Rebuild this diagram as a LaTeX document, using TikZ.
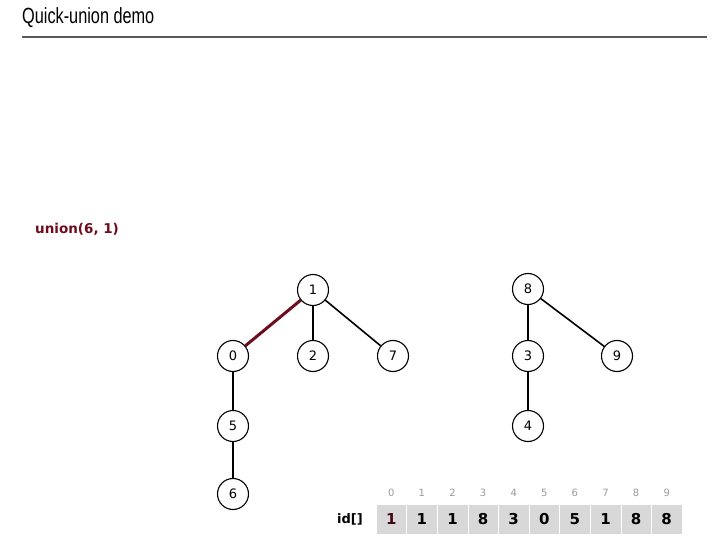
\documentclass[tikz,border=0pt]{standalone}
\usepackage{fontspec}
\setmainfont{DejaVu Sans}
\newfontfamily\titlefont[FakeStretch=0.74]{Liberation Sans}
\usetikzlibrary{positioning}
\definecolor{darkred}{HTML}{6E0B1C}
\definecolor{cellgray}{HTML}{D8D8D8}
\begin{document}
\begin{tikzpicture}[x=1pt, y=-1pt,
    vertex/.style={circle, draw, line width=1.1pt, fill=white, minimum size=31pt, inner sep=0pt, font=\fontsize{13}{15}\selectfont},
    edge/.style={line width=1.6pt},
    cell/.style={rectangle, draw=white, fill=cellgray, minimum width=30.6pt, minimum height=30pt, inner sep=0pt, font=\bfseries\fontsize{15}{18}\selectfont},
    index/.style={text=gray!80, font=\fontsize{10}{12}\selectfont}]
    \useasboundingbox (0,0) rectangle (715,548);

    % Title and rule
    \node[anchor=base west, inner sep=0pt, font=\titlefont\fontsize{22}{26}\selectfont] (title) at (22,24) {Quick-union demo};
    \draw[gray!70!black, line width=1.2pt] (22,37) -- (707,37);

    % Operation
    \node[anchor=west, inner sep=0pt, text=darkred, font=\bfseries\fontsize{13.5}{16}\selectfont] (op) at (35,229) {union(6, 1)};

    % Trees
    \node[vertex] (n1) at (313,290) {1};
    \node[vertex] (n0) at (233,356) {0};
    \node[vertex] (n2) at (313,356) {2};
    \node[vertex] (n7) at (393,356) {7};
    \node[vertex] (n5) at (233,426) {5};
    \node[vertex] (n6) at (233,494) {6};
    \node[vertex] (n8) at (528,289) {8};
    \node[vertex] (n3) at (528,356) {3};
    \node[vertex] (n9) at (617,356) {9};
    \node[vertex] (n4) at (528,426) {4};

    % Links
    \draw[edge, darkred, line width=3pt] (n1) -- (n0);
    \draw[edge] (n1) -- (n2);
    \draw[edge] (n1) -- (n7);
    \draw[edge] (n0) -- (n5);
    \draw[edge] (n5) -- (n6);
    \draw[edge] (n8) -- (n3);
    \draw[edge] (n8) -- (n9);
    \draw[edge] (n3) -- (n4);

    % id[] array
    \node[font=\bfseries\fontsize{13}{15}\selectfont] (idlabel) at (350,519) {id[]};
    \foreach \v [count=\i from 0] in {1,1,1,8,3,0,5,1,8,8} {
        \node[cell] (c\i) at (391.3+30.6*\i,519) {\v};
        \node[index] (i\i) at (391.3+30.6*\i,493) {\i};
    }
    \node[cell, text=darkred!60!black] at (c0) {1};
\end{tikzpicture}
\end{document}
